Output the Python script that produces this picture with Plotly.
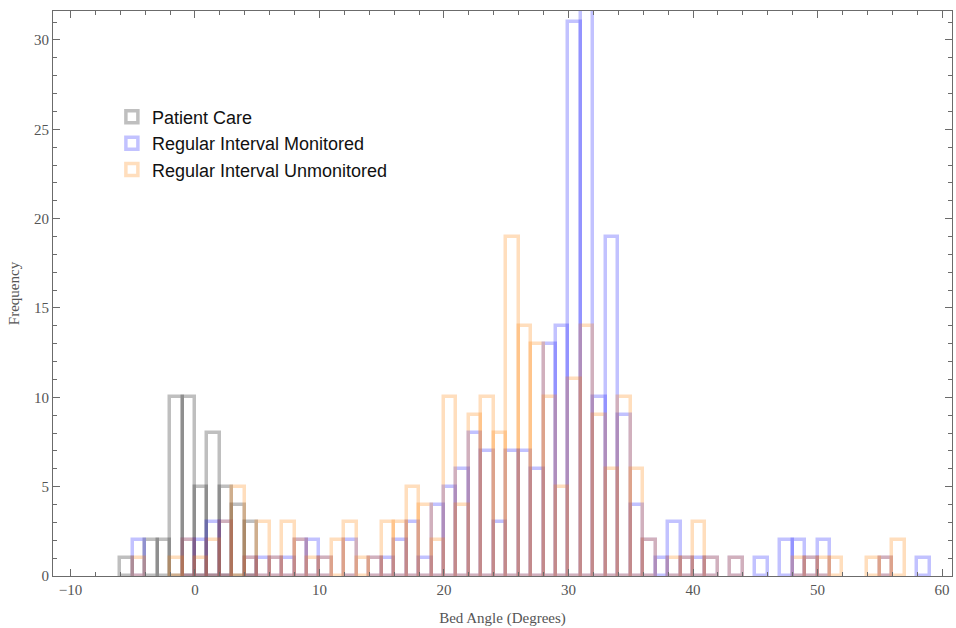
import plotly.graph_objects as go

# Bin left edges (degrees), bin width = 1
bins = list(range(-6, 59))

patient_care = [1, 0, 2, 2, 10, 10, 5, 8, 5, 4, 3] + [0] * 54

monitored = [0, 2, 0, 0, 0, 2, 2, 3, 3, 0, 1, 1, 1, 1, 2, 2, 1, 0, 2, 0,
             1, 1, 2, 3, 1, 4, 5, 6, 8, 7, 3, 7, 7, 6, 13, 14, 31, 34, 10, 19,
             9, 4, 2, 1, 3, 1, 1, 1, 0, 1, 0, 1, 0, 2, 2, 1, 2, 0, 0, 0,
             0, 1, 0, 0, 1]

unmonitored = [0, 1, 0, 0, 1, 2, 1, 2, 3, 5, 1, 3, 1, 3, 2, 1, 1, 2, 3, 1,
               1, 3, 3, 5, 4, 2, 10, 4, 9, 10, 8, 19, 14, 13, 10, 5, 11, 14, 9, 6,
               10, 6, 2, 0, 1, 1, 3, 1, 0, 1, 0, 0, 0, 0, 1, 1, 1, 1, 0, 0,
               1, 1, 2, 0, 0]

series = [
    ("Patient Care", patient_care, "rgba(0,0,0,0.25)"),
    ("Regular Interval Monitored", monitored, "rgba(0,0,255,0.24)"),
    ("Regular Interval Unmonitored", unmonitored, "rgba(255,128,0,0.26)"),
]

fig = go.Figure()
for name, vals, col in series:
    fig.add_trace(go.Bar(
        x=bins,
        y=[v if v else None for v in vals],
        width=1,
        offset=0,
        name=name,
        marker=dict(color="rgba(0,0,0,0)", line=dict(color=col, width=3.5)),
    ))

axis_common = dict(
    showline=True, linecolor="#6b6b6b", linewidth=1.2, mirror="ticks",
    ticks="inside", tickcolor="#6b6b6b", ticklen=7, tickwidth=1,
    showgrid=False, zeroline=False, automargin=False,
    tickfont=dict(family="Liberation Serif", size=15, color="#555555"),
)

fig.update_layout(
    width=956, height=628,
    margin=dict(l=53, r=4, t=11, b=52),
    plot_bgcolor="white", paper_bgcolor="white",
    barmode="overlay", bargap=0,
    showlegend=True,
    legend=dict(x=0.0655, y=0.845, xanchor="left", yanchor="top",
                bgcolor="rgba(0,0,0,0)",
                font=dict(family="Liberation Sans", size=18, color="#111111")),
    xaxis=dict(range=[-11.4, 60.8], tick0=0, dtick=10,
               minor=dict(dtick=2, ticks="inside", ticklen=4, tickcolor="#6b6b6b"),
               title=dict(text="Bed Angle (Degrees)", standoff=15,
                          font=dict(family="Liberation Serif", size=15, color="#555555")),
               **axis_common),
    yaxis=dict(range=[0, 31.62], tick0=0, dtick=5,
               minor=dict(dtick=1, ticks="inside", ticklen=4, tickcolor="#6b6b6b"),
               title=dict(text="Frequency", standoff=10,
                          font=dict(family="Liberation Serif", size=15, color="#555555")),
               **axis_common),
)

fig.write_html("out.html", config={"displayModeBar": False},
               post_script="document.body.style.margin='0';document.body.style.overflow='hidden';")
